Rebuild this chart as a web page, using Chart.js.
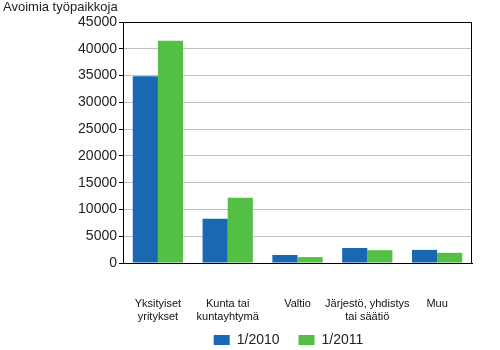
<!DOCTYPE html>
<html>
<head>
<meta charset="utf-8">
<script src="https://cdn.jsdelivr.net/npm/chart.js@4.4.1/dist/chart.umd.min.js"></script>
<style>
  html, body { margin: 0; padding: 0; background: #fff; }
  #wrap { width: 500px; height: 350px; }
</style>
</head>
<body>
<div id="wrap"><canvas id="chart" width="500" height="350"></canvas></div>
<script>
// Avoimet työpaikat sektoreittain, 1/2010 vs 1/2011
const categories = [
  ["Yksityiset", "yritykset"],
  ["Kunta tai", "kuntayhtymä"],
  ["Valtio"],
  ["Järjestö, yhdistys", "tai säätiö"],
  ["Muu"]
]
const series2010 = [34900, 8250, 1500, 2800, 2450]
const series2011 = [41500, 12200, 1100, 2400, 1900]
const yTicks = [0, 5000, 10000, 15000, 20000, 25000, 30000, 35000, 40000, 45000]

const FONT = "'Liberation Sans', Arial, sans-serif"
const BLUE = "#1a68b1"
const GREEN = "#53bf44"

// black box round the plot area
const framePlugin = {
  id: "frame",
  afterDraw(chart) {
    const { ctx, chartArea: a } = chart
    ctx.save()
    ctx.strokeStyle = "#000"
    ctx.lineWidth = 1
    const l = Math.round(a.left) + 0.5
    const t = Math.round(a.top) + 0.5
    const r = Math.round(a.right) - 0.5
    const b = Math.round(a.bottom) + 0.5
    ctx.strokeRect(l, t, r - l, b - t)
    ctx.restore()
  }
}

// legend sits right of centre; pull it up into the visible canvas
const legendShift = {
  id: "legendShift",
  afterLayout(chart) {
    const lg = chart.legend
    lg.left += 51
    lg.right += 51
    lg.top -= 12
    lg.bottom -= 12
  }
}

new Chart(document.getElementById("chart"), {
  type: "bar",
  data: {
    labels: categories,
    datasets: [
      { label: "1/2010", data: series2010, backgroundColor: BLUE },
      { label: "1/2011", data: series2011, backgroundColor: GREEN }
    ]
  },
  options: {
    responsive: false,
    animation: false,
    layout: { padding: { left: 3, right: 28, top: 0, bottom: -19 } },
    datasets: {
      bar: { categoryPercentage: 0.72, barPercentage: 1.0 }
    },
    scales: {
      x: {
        afterFit(scale) {
          scale.height = 63
        },
        grid: { display: false, drawTicks: false },
        border: { color: "#000" },
        ticks: {
          color: "#111",
          font: { family: FONT, size: 11 },
          padding: 34,
          maxRotation: 0,
          autoSkip: false
        }
      },
      y: {
        min: 0,
        max: 45000,
        afterBuildTicks(scale) {
          scale.ticks = yTicks.map(v => ({ value: v }))
        },
        afterFit(scale) {
          scale.width = 120
        },
        grid: {
          color: "#c0c0c0",
          tickColor: "#000",
          tickLength: 4
        },
        border: { color: "#000" },
        ticks: {
          color: "#222",
          font: { family: FONT, size: 14 },
          padding: 2,
          callback: v => String(v)
        }
      }
    },
    plugins: {
      title: {
        display: true,
        text: "Avoimia työpaikkoja",
        align: "start",
        color: "#222",
        font: { family: FONT, size: 13, weight: "normal" },
        padding: { top: 0, bottom: 6.5 }
      },
      legend: {
        position: "bottom",
        labels: {
          color: "#222",
          font: { family: FONT, size: 14 },
          boxWidth: 16,
          boxHeight: 10,
          padding: 19
        }
      },
      tooltip: { enabled: false }
    }
  },
  plugins: [framePlugin, legendShift]
})
</script>
</body>
</html>
